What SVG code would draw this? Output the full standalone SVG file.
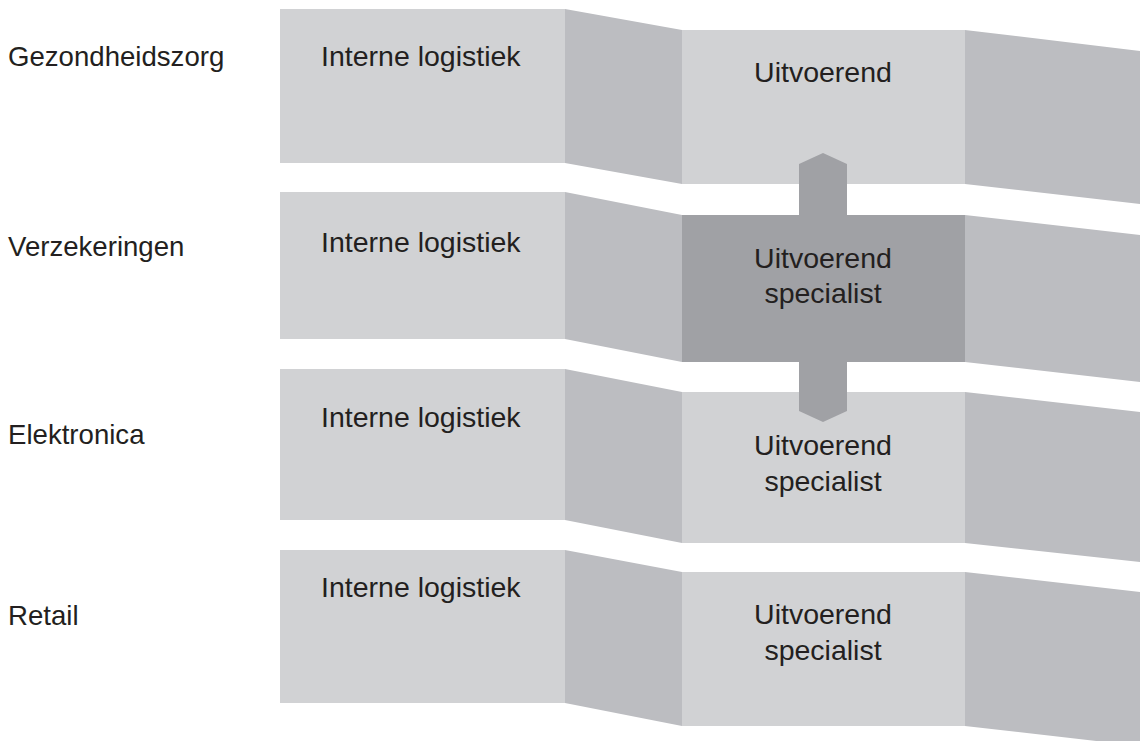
<svg xmlns="http://www.w3.org/2000/svg" width="1140" height="741" viewBox="0 0 1140 741">
<style>
.lt{fill:#d1d2d4}
.md{fill:#bcbdc1}
.dk{fill:#a0a1a5}
text{font-family:"Liberation Sans",Arial,sans-serif;font-size:28.5px;fill:#231f20}
.lab{font-size:27.6px}
.c{text-anchor:middle}
</style>
<rect width="1140" height="741" fill="#ffffff"/>
<g id="labels">
<text class="lab" x="8" y="66">Gezondheidszorg</text>
<text class="lab" x="8" y="256">Verzekeringen</text>
<text class="lab" x="8" y="444">Elektronica</text>
<text class="lab" x="8" y="625">Retail</text>
</g>
<g id="row1">
<rect class="lt" x="280" y="9" width="285" height="154"/>
<polygon class="md" points="565,9 682,30 682,184 565,163"/>
<rect class="lt" x="682" y="30" width="283" height="154"/>
<polygon class="md" points="965,30 1140,51 1140,204 965,184"/>
<text x="321" y="66">Interne logistiek</text>
<text class="c" x="823" y="82">Uitvoerend</text>
</g>
<g id="row3">
<rect class="lt" x="280" y="369" width="285" height="151"/>
<polygon class="md" points="565,369 682,392 682,543 565,520"/>
<rect class="lt" x="682" y="392" width="283" height="151"/>
<polygon class="md" points="965,392 1140,412 1140,562 965,543"/>
<text x="321" y="427">Interne logistiek</text>
<text class="c" x="823" y="455">Uitvoerend</text>
<text class="c" x="823" y="491">specialist</text>
</g>
<g id="row4">
<rect class="lt" x="280" y="550" width="285" height="153"/>
<polygon class="md" points="565,550 682,572 682,726 565,703"/>
<rect class="lt" x="682" y="572" width="283" height="154"/>
<polygon class="md" points="965,572 1140,592 1140,746 965,726"/>
<text x="321" y="597">Interne logistiek</text>
<text class="c" x="823" y="624">Uitvoerend</text>
<text class="c" x="823" y="660">specialist</text>
</g>
<g id="connectors">
<polygon class="dk" points="823,153 847,164 847,411 823,422 799,411 799,164"/>
</g>
<g id="row2">
<rect class="lt" x="280" y="192" width="285" height="147"/>
<polygon class="md" points="565,192 682,215 682,362 565,339"/>
<rect class="dk" x="682" y="215" width="283" height="147"/>
<polygon class="md" points="965,215 1140,235 1140,382 965,362"/>
<text x="321" y="252">Interne logistiek</text>
<text class="c" x="823" y="268">Uitvoerend</text>
<text class="c" x="823" y="303">specialist</text>
</g>
</svg>
